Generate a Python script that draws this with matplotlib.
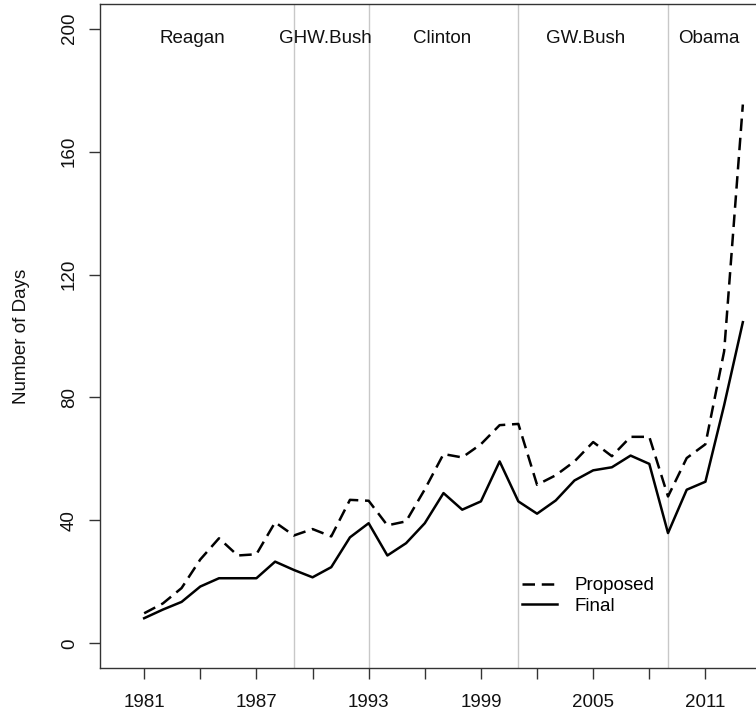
import numpy as np
import matplotlib
matplotlib.use("Agg")
import matplotlib.pyplot as plt
from matplotlib.lines import Line2D

plt.rcParams['font.family'] = ['Liberation Sans', 'DejaVu Sans']

# days between proposed / final rule, by year
years = list(range(1981, 2014))
proposed = [9.8, 13, 18, 27.3, 34.2, 28.6, 29, 39.4, 35.1, 37.2, 34.8, 46.7, 46.4,
            38.4, 39.7, 50.1, 61.6, 60.5, 64.8, 71, 71.4, 51.6, 54.7, 59.2, 65.5,
            60.9, 67.2, 67.2, 47.8, 60.3, 64.8, 95, 175.3]
final = [8.2, 11, 13.5, 18.5, 21.2, 21.2, 21.2, 26.6, 23.9, 21.5, 24.8, 34.5, 39.1,
         28.6, 32.6, 39.1, 48.9, 43.5, 46.2, 59.2, 46.2, 42.2, 46.5, 53, 56.3,
         57.3, 61.1, 58.4, 35.9, 50, 52.6, 77.5, 104.5]

# administration boundaries and label positions
boundaries = [1989, 1993, 2001, 2009]
presidents = ['Reagan', 'GHW.Bush', 'Clinton', 'GW.Bush', 'Obama']
label_x = [1983.6, 1990.7, 1996.9, 2004.6, 2011.2]
label_y = 196.8

x_ticks = list(range(1981, 2014, 3))
x_labels = [str(y) if (y - 1981) % 6 == 0 else '' for y in x_ticks]
y_ticks = [0, 40, 80, 120, 160, 200]

fs = 13.5
fig = plt.figure(figsize=(7.56, 7.15), dpi=100)
W, H = 756, 715
ax = fig.add_axes([100 / W, 1 - 668 / H, 687 / W, 664 / H])

for b in boundaries:
    ax.axvline(b, color='#c8c8c8', lw=1, zorder=1)

ax.plot(years, proposed, color='black', lw=1.8, dashes=(5, 2.7), zorder=3)
ax.plot(years, final, color='black', lw=1.8, zorder=3)

for name, lx in zip(presidents, label_x):
    ax.text(lx, label_y, name, ha='center', va='center', fontsize=fs, color='#111111')

ax.set_xlim(1978.64, 2015.36)
ax.set_ylim(-8, 208)
ax.set_xticks(x_ticks)
ax.set_xticklabels(x_labels)
ax.set_yticks(y_ticks)
ax.set_yticklabels([str(v) for v in y_ticks], rotation=90, va='center')
ax.tick_params(axis='both', direction='out', length=8, width=1, labelsize=fs,
               color='#333333', labelcolor='#111111')
ax.tick_params(axis='x', pad=11)
ax.tick_params(axis='y', pad=8)
for s in ax.spines.values():
    s.set_linewidth(1)
    s.set_color('#333333')

ax.set_ylabel('Number of Days', fontsize=fs, color='#111111', va='center')
ax.yaxis.set_label_coords(-0.114, 0.5)

handles = [Line2D([], [], color='black', lw=1.8, dashes=(5, 2.7)),
           Line2D([], [], color='black', lw=1.8)]
ax.legend(handles, ['Proposed', 'Final'], loc='upper left', frameon=False,
          fontsize=fs, handlelength=1.85, handletextpad=0.95, labelspacing=0.2,
          borderpad=0, borderaxespad=0,
          bbox_to_anchor=(522 / W, 1 - 577 / H), bbox_transform=fig.transFigure)

fig.savefig('out.png', dpi=100)
